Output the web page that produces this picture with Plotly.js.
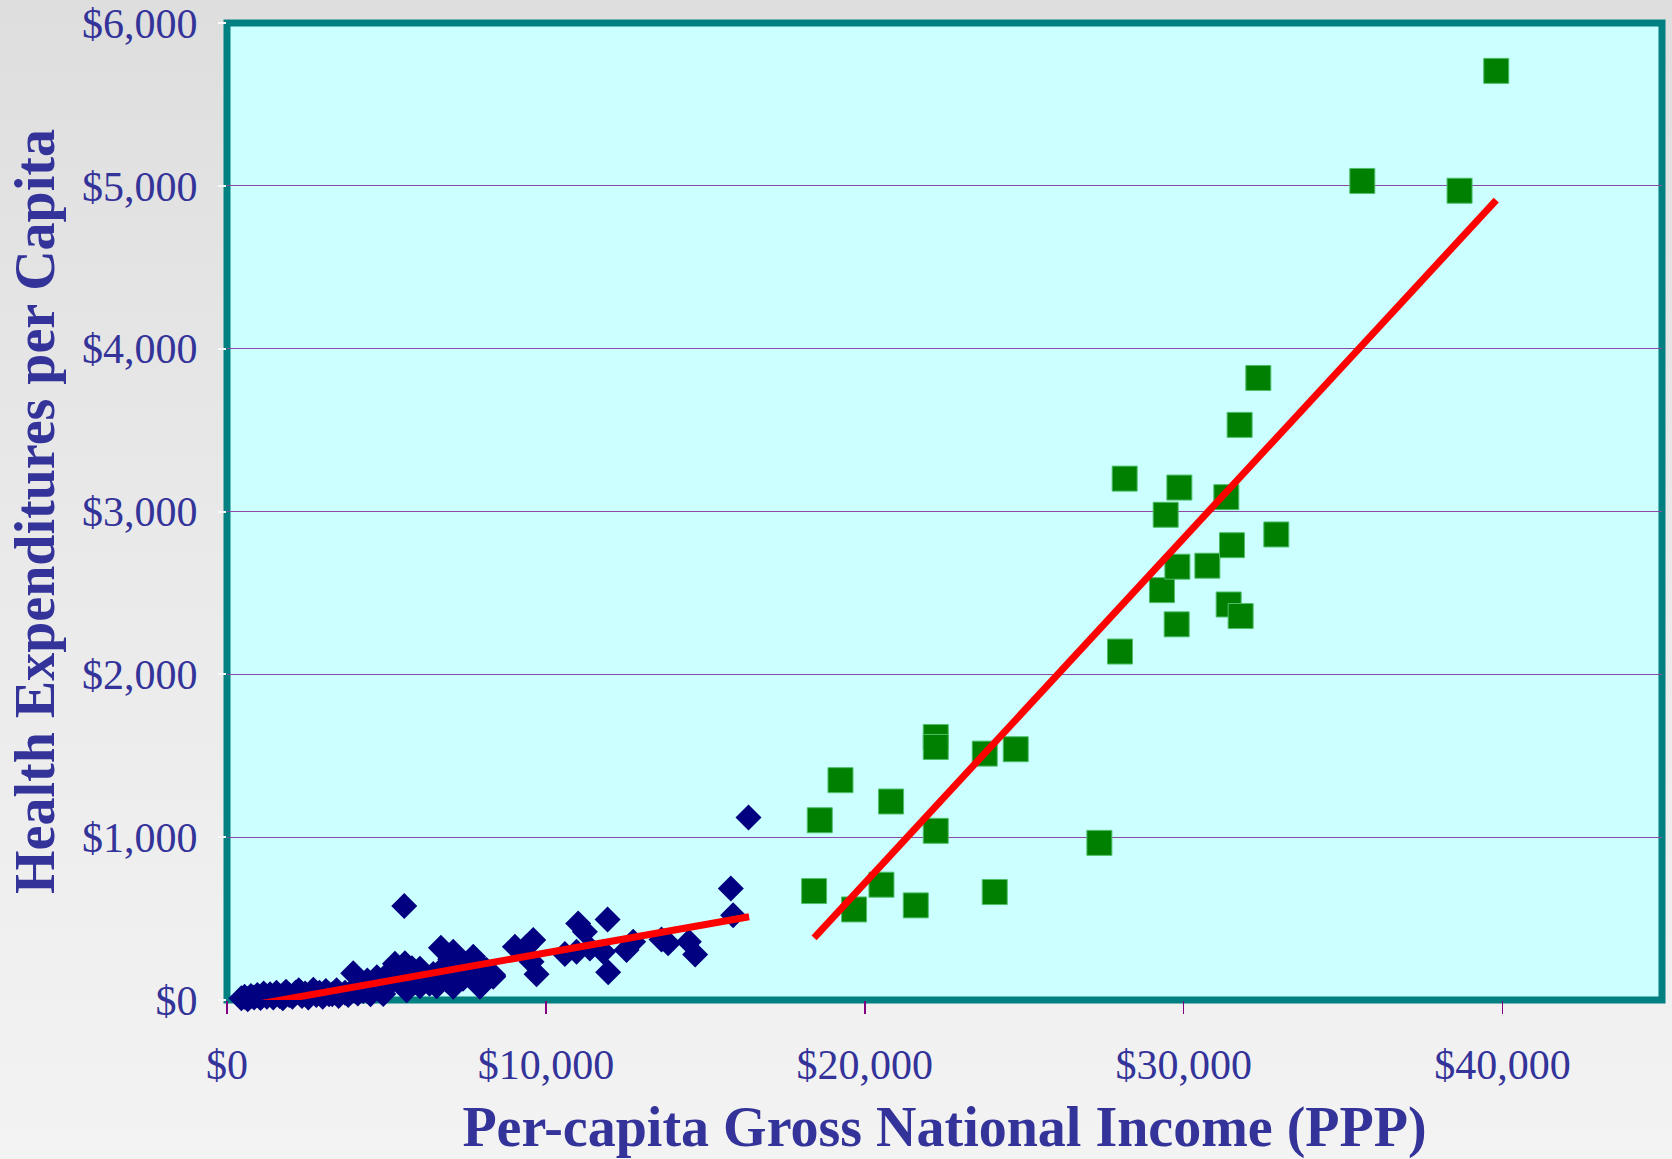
<!DOCTYPE html>
<html>
<head>
<meta charset="utf-8">
<script src="https://cdn.plot.ly/plotly-3.0.1.min.js"></script>
<style>
  html, body { margin: 0; padding: 0; }
  body { width: 1672px; height: 1159px; background: linear-gradient(to bottom, #dedede 0%, #eaeaea 50%, #f3f3f3 100%); }
  #chart { width: 1672px; height: 1159px; }
</style>
</head>
<body>
<div id="chart"></div>
<script>
// Per-capita GNI (PPP) vs health expenditures per capita
// Lower/middle-income countries (navy diamonds)
const blueX = [
  450, 550, 650, 750, 850, 950, 1050, 1150, 1250, 1350, 1450, 1550, 1650, 1750, 1850, 1950,
  2050, 2150, 2250, 2350, 2450, 2550, 2706, 2800, 2900, 3000, 3100, 3200,
  3300, 3438, 3500, 3700, 3800, 3960, 4000, 4100, 4200, 4273, 4400, 4500, 4600, 4700, 4800, 4900,
  5000, 5100, 5213, 5266, 5400, 5500, 5558, 5580, 5633, 5700, 5800, 5900, 6050, 6050, 6200, 6350,
  6467, 6573, 6708, 6800, 6900, 7000, 7094, 7094, 7250, 7400, 7600, 7722, 7800, 7931, 8000, 8140, 8349,
  8349, 9028, 9394, 9551, 9603, 9708, 10596, 10962, 11013, 11223, 11379, 11797, 11934, 11953,
  12530, 12737, 13626, 13834, 14483, 14681, 15799, 15872, 16354
];
const blueY = [
  10, 20, 5, 25, 15, 30, 12, 40, 20, 35, 15, 45, 25, 10, 50, 30,
  20, 45, 60, 25, 40, 15, 63, 30, 45, 20, 55, 35,
  35, 60, 25, 45, 30, 164, 70, 40, 100, 55, 120, 35, 80, 140, 60, 37,
  150, 100, 190, 222, 170, 90, 577, 225, 60, 140, 195, 110, 192, 85, 140, 100,
  160, 85, 321, 200, 120, 250, 296, 82, 180, 130, 220, 266, 150, 82, 200, 184, 143,
  153, 327, 327, 235, 368, 158, 282, 296, 470, 419, 317, 296, 495, 170,
  307, 358, 372, 348, 358, 280, 685, 521, 1121
];
// High-income countries (green squares)
const greenX = [
  18411, 18589, 19238, 19665, 20523, 20825, 21599, 22226, 22226, 22226, 23762, 24075, 24734,
  27357, 28003, 28150, 29320, 29436, 29781, 29803, 29865, 30743, 31338, 31411, 31515, 31755,
  31787, 32341, 32905, 35602, 38652, 39802
];
const greenY = [
  669, 1104, 1350, 556, 708, 1219, 581, 1615, 1554, 1039, 1513, 663, 1540,
  965, 2140, 3202, 2517, 2980, 2307, 2661, 3147, 2667, 3088, 2429, 2793, 3532,
  2358, 3820, 2859, 5030, 4970, 5706
];
// Highlighted point (black diamond, mostly hidden)
const blackX = [1130];
const blackY = [-12];
// Trend lines
const trendLowX = [668, 16373];
const trendLowY = [-36, 511];
const trendHighX = [18411, 39802];
const trendHighY = [382, 4912];

const tickFont = {family: 'Liberation Serif, Times New Roman, serif', size: 42, color: '#333399'};
const titleFont = {family: 'Liberation Serif, Times New Roman, serif', size: 56, color: '#333399', weight: 'bold'};

const traces = [
  {x: blackX, y: blackY, type: 'scatter', mode: 'markers', cliponaxis: false,
   marker: {symbol: 'diamond', size: 20, color: '#000000'}, hoverinfo: 'x+y'},
  {x: blueX, y: blueY, type: 'scatter', mode: 'markers', cliponaxis: false,
   marker: {symbol: 'diamond', size: 20, color: '#000080', line: {width: 0}}},
  {x: greenX, y: greenY, type: 'scatter', mode: 'markers', cliponaxis: false,
   marker: {symbol: 'square', size: 25, color: '#008000', line: {width: 1, color: '#4fbf6a'}}},
  {x: trendLowX, y: trendLowY, type: 'scatter', mode: 'lines',
   line: {color: '#ff0000', width: 7}},
  {x: trendHighX, y: trendHighY, type: 'scatter', mode: 'lines',
   line: {color: '#ff0000', width: 7}}
];

const layout = {
  width: 1672, height: 1159,
  margin: {l: 227, r: 10, t: 23, b: 159, pad: 0},
  paper_bgcolor: 'rgba(0,0,0,0)',
  plot_bgcolor: '#ccffff',
  showlegend: false,
  xaxis: {
    range: [0, 45000], dtick: 10000, tick0: 0,
    tickprefix: '$', tickformat: ',d',
    showgrid: false, zeroline: false, showline: false,
    ticks: 'outside', ticklen: 13, tickwidth: 1.5, tickcolor: '#800080',
    tickfont: tickFont, ticklabelstandoff: 15,
    layer: 'below traces',
    title: {text: 'Per-capita Gross National Income (PPP)', font: titleFont, standoff: 23}
  },
  yaxis: {
    range: [0, 6000], dtick: 1000, tick0: 0,
    tickprefix: '$', tickformat: ',d',
    showgrid: true, gridcolor: '#8a4aa6', gridwidth: 1,
    zeroline: false, showline: false,
    ticks: 'outside', ticklen: 8, tickwidth: 2, tickcolor: '#f8f8f8',
    tickfont: tickFont, ticklabelstandoff: 12,
    layer: 'below traces',
    title: {text: 'Health Expenditures per Capita', font: titleFont, standoff: 9}
  },
  shapes: [
    {type: 'rect', xref: 'paper', yref: 'paper', x0: 0, x1: 1, y0: 0, y1: 1,
     line: {color: '#008080', width: 7}, fillcolor: 'rgba(0,0,0,0)', layer: 'between'}
  ]
};

Plotly.newPlot('chart', traces, layout, {displayModeBar: false, staticPlot: true});
</script>
</body>
</html>
